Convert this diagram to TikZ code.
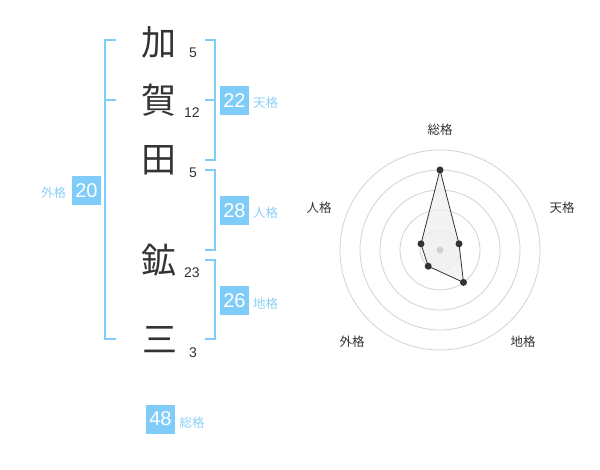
\documentclass[tikz,border=0pt]{standalone}
\usepackage{fontspec}
\setmainfont{Liberation Sans}
\newfontfamily\cjk{Noto Sans CJK JP}
\definecolor{kblue}{RGB}{128,204,249}
\definecolor{klab}{RGB}{140,208,247}
\definecolor{kdark}{RGB}{51,51,51}
\definecolor{kring}{RGB}{210,210,210}
\begin{document}
\begin{tikzpicture}[x=1pt,y=-1pt,
  kanji/.style={inner sep=0pt,text=kdark,font=\cjk\fontsize{35}{35}\selectfont},
  stroke/.style={inner sep=0pt,text=kdark,font=\fontsize{14}{14}\selectfont},
  valbox/.style={fill=kblue,text=white,minimum size=29pt,inner sep=0pt,font=\fontsize{20}{20}\selectfont},
  vallab/.style={inner sep=0pt,text=klab,font=\cjk\fontsize{12.5}{12.5}\selectfont},
  brk/.style={draw=kblue,line width=2pt},
  ring/.style={draw=kring,line width=0.8pt},
  axlab/.style={inner sep=0pt,text=kdark,font=\cjk\fontsize{12.5}{12.5}\selectfont},
  dot/.style={circle,fill=kdark,inner sep=0pt,minimum size=7pt}]
\useasboundingbox (0,0) rectangle (600,470);
% characters
\node[kanji] (c1) at (159,42) {加};
\node[kanji] (c2) at (159,100) {賀};
\node[kanji] (c3) at (159,160) {田};
\node[kanji] (c4) at (159,260) {鉱};
\node[kanji] (c5) at (160,340) {三};
\node[stroke] (s1) at (193,53) {5};
\node[stroke] (s2) at (192,113) {12};
\node[stroke] (s3) at (193,173) {5};
\node[stroke] (s4) at (192,273) {23};
\node[stroke] (s5) at (193,353) {3};
% brackets
\draw[brk] (116,40) -- (105,40) -- (105,339) -- (116,339);
\draw[brk] (105,100) -- (116,100);
\draw[brk] (205,40) -- (214.5,40) -- (214.5,160) -- (205,160);
\draw[brk] (205,100) -- (214.5,100);
\draw[brk] (205,170) -- (214.5,170) -- (214.5,250) -- (205,250);
\draw[brk] (205,260) -- (214.5,260) -- (214.5,339) -- (205,339);
% value boxes
\node[valbox] (gai) at (86.5,190.5) {20};
\node[vallab] (gail) at (53.5,193) {外格};
\node[valbox] (ten) at (234.5,100.5) {22};
\node[vallab] (tenl) at (265.5,103) {天格};
\node[valbox] (jin) at (234.5,210.5) {28};
\node[vallab] (jinl) at (265.5,213) {人格};
\node[valbox] (chi) at (234.5,300.5) {26};
\node[vallab] (chil) at (265.5,304) {地格};
\node[valbox] (sou) at (160.5,419) {48};
\node[vallab] (soul) at (192,423) {総格};
% radar
\coordinate (ctr) at (440,250);
\fill[gray!8] (ctr) circle[radius=20pt];
\foreach \r in {20,40,60,80,100} \draw[ring] (ctr) circle[radius=\r pt];
\node[axlab] (a1) at (440,130) {総格};
\node[axlab] (a2) at (562,208) {天格};
\node[axlab] (a3) at (523,342) {地格};
\node[axlab] (a4) at (352,342) {外格};
\node[axlab] (a5) at (319,208) {人格};
\coordinate (p1) at (440,170);
\coordinate (p2) at (459.0,243.8);
\coordinate (p3) at (463.5,282.4);
\coordinate (p4) at (428.2,266.2);
\coordinate (p5) at (421.0,243.8);
\draw[kdark,line width=0.8pt,fill=gray!12,fill opacity=0.8] (p1) -- (p2) -- (p3) -- (p4) -- (p5) -- cycle;
\node[circle,fill=kring,inner sep=0pt,minimum size=7pt] (cd) at (ctr) {};
\foreach \p in {p1,p2,p3,p4,p5} \node[dot] at (\p) {};
\end{tikzpicture}
\end{document}
